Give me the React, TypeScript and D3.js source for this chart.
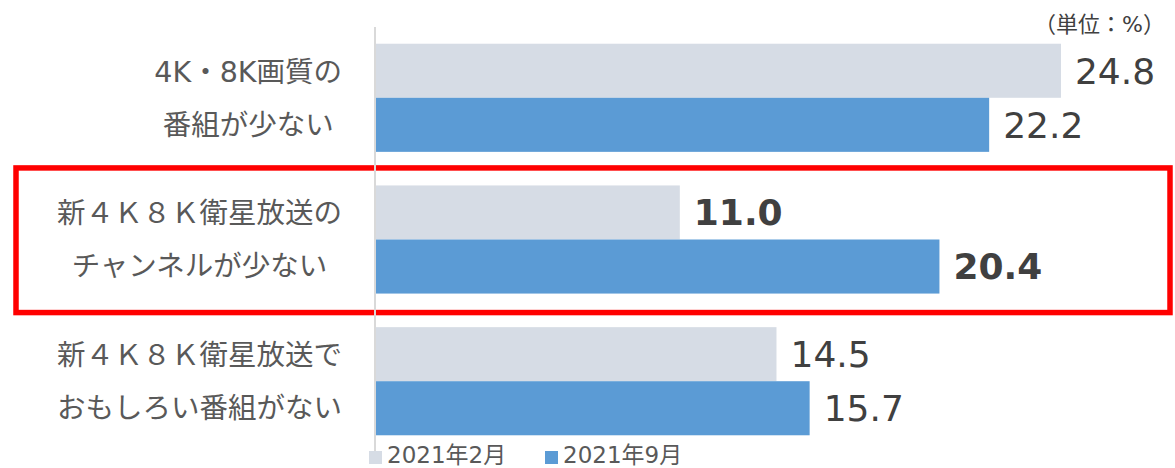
import React, { useEffect, useRef } from "react";
import * as d3 from "d3";

const categories = ["4K・8K画質の番組が少ない", "新４Ｋ８Ｋ衛星放送のチャンネルが少ない", "新４Ｋ８Ｋ衛星放送でおもしろい番組がない"];
const categoryLines = [
  ["4K・8K画質の", "番組が少ない"],
  ["新４Ｋ８Ｋ衛星放送の", "チャンネルが少ない"],
  ["新４Ｋ８Ｋ衛星放送で", "おもしろい番組がない"],
];
const seriesNames = ["2021年2月", "2021年9月"];
const seriesColors = ["#D6DCE5", "#5B9BD5"];
const feb2021 = [24.8, 11.0, 14.5];
const sep2021 = [22.2, 20.4, 15.7];
const highlighted = [false, true, false];
const unitLabel = "（単位：%）";

const W = 1175;
const H = 468;
const LATIN = "'DejaVu Sans', Verdana, 'Noto Sans CJK JP', sans-serif";
const JP = "'DejaVu Sans', 'Noto Sans CJK JP', sans-serif";

export default function App() {
  const ref = useRef<SVGSVGElement | null>(null);

  useEffect(() => {
    const svg = d3.select(ref.current);
    svg.selectAll("*").remove();

    const x = d3.scaleLinear().domain([0, 30]).range([376, 376 + 30 * 27.62]);
    const y = d3.scaleBand<string>().domain(categories).range([27, 452]).paddingInner(0.237).paddingOuter(0.118);
    const ys = d3.scaleBand<string>().domain(seriesNames).range([0, y.bandwidth()]);
    const seriesValues = [feb2021, sep2021];

    // highlight frame around second category
    const hc = categories[highlighted.indexOf(true)];
    const hy0 = (y(hc) as number) - 17.5;
    const hy1 = (y(hc) as number) + y.bandwidth() + 19;
    svg.append("rect")
      .attr("x", 16).attr("y", hy0).attr("width", 1170 - 16).attr("height", hy1 - hy0)
      .attr("fill", "none").attr("stroke", "#FF0000").attr("stroke-width", 5.5);

    // bars
    seriesNames.forEach((s, si) => {
      const vals = seriesValues[si];
      const g = svg.append("g");
      g.selectAll("rect").data(categories).join("rect")
        .attr("x", x(0))
        .attr("y", (c) => (y(c) as number) + (ys(s) as number))
        .attr("width", (c, i) => x(vals[i]) - x(0))
        .attr("height", ys.bandwidth())
        .attr("fill", seriesColors[si]);
      g.selectAll("text").data(categories).join("text")
        .attr("x", (c, i) => x(vals[i]) + 14)
        .attr("y", (c) => (y(c) as number) + (ys(s) as number) + ys.bandwidth() / 2)
        .attr("dy", "0.36em")
        .attr("font-family", LATIN)
        .attr("font-size", 36)
        .attr("font-weight", (c, i) => (highlighted[i] ? "bold" : "normal"))
        .attr("fill", "#404040")
        .text((c, i) => vals[i].toFixed(1));
    });

    // axis line
    svg.append("line")
      .attr("x1", 375).attr("x2", 375).attr("y1", 27).attr("y2", 452)
      .attr("stroke", "#D9D9D9").attr("stroke-width", 2);

    // category labels (block right-aligned, lines centered)
    categories.forEach((c, i) => {
      const cy = (y(c) as number) + y.bandwidth() / 2;
      const g = svg.append("g");
      const texts = categoryLines[i].map((line, li) =>
        g.append("text")
          .attr("y", cy + (li === 0 ? -26.5 : 26.5))
          .attr("dy", "0.36em")
          .attr("text-anchor", "middle")
          .attr("font-family", JP)
          .attr("font-size", 28.5)
          .attr("fill", "#595959")
          .text(line)
      );
      const widths = texts.map((t) => (t.node() as SVGTextElement).getComputedTextLength());
      const maxW = Math.max(...widths);
      texts.forEach((t) => t.attr("x", 342 - maxW / 2));
    });

    // unit label
    svg.append("text")
      .attr("x", 1165).attr("y", 24).attr("dy", "0.36em")
      .attr("text-anchor", "end")
      .attr("font-family", JP).attr("font-size", 22).attr("fill", "#404040")
      .text(unitLabel);

    // legend
    const legendX = [369, 545];
    seriesNames.forEach((s, si) => {
      svg.append("rect")
        .attr("x", legendX[si]).attr("y", 451).attr("width", 13).attr("height", 13)
        .attr("fill", seriesColors[si]);
      svg.append("text")
        .attr("x", legendX[si] + 18).attr("y", 463)
        .attr("font-family", JP).attr("font-size", 23).attr("fill", "#595959")
        .text(s);
    });
  }, []);

  return (
    <svg
      ref={ref}
      width={W}
      height={H}
      style={{ position: "absolute", left: 0, top: 0, background: "#fff" }}
    />
  );
}
